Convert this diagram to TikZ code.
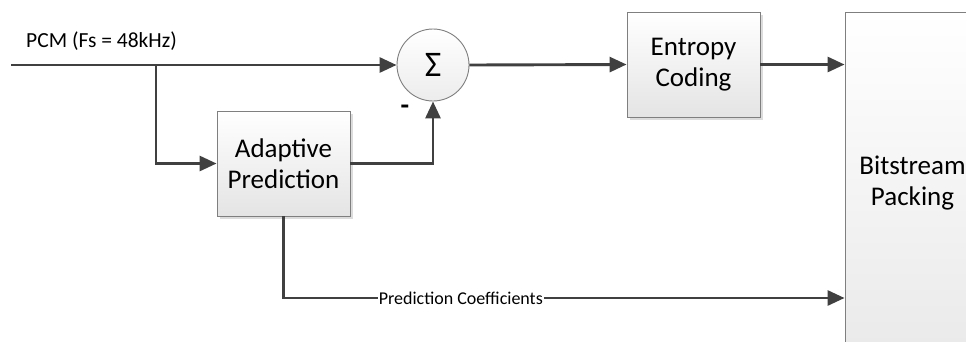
\documentclass[tikz,border=0pt]{standalone}
\usepackage{fontspec}
\setmainfont{Carlito}
\usetikzlibrary{arrows.meta,shadows,calc}
\definecolor{wirec}{HTML}{404040}
\definecolor{edgec}{HTML}{7F7F7F}
\definecolor{fillc}{HTML}{E4E4E4}
\begin{document}
\begin{tikzpicture}[x=1pt,y=-1pt,
  wire/.style={draw=wirec, line width=2.9pt, -{Triangle[length=17pt,width=15pt]}},
  block/.style={draw=edgec, line width=0.9pt, top color=white, bottom color=fillc,
    minimum width=133pt, minimum height=105pt, align=center, inner sep=0pt,
    font=\fontsize{27}{31}\selectfont,
    drop shadow={shadow xshift=3pt, shadow yshift=-3pt, fill=black!30, opacity=0.45}},
  sumnode/.style={draw=edgec, line width=0.9pt, circle, top color=white, bottom color=fillc!70,
    minimum size=72pt, inner sep=0pt, font=\fontsize{36}{40}\selectfont},
  lab/.style={inner sep=1pt}
]
\useasboundingbox (0,0) rectangle (966,341);
\fill[white] (0,0) rectangle (966,341);

\node[block] (adapt) at (283.5,163.5) {Adaptive\\Prediction};
\node[block] (ent) at (693.5,64.5) {Entropy\\Coding};
\node[block, minimum width=135pt, minimum height=343pt, top color=white, bottom color=fillc!80] (bit) at (912.5,183.5) {Bitstream\\Packing};
\node[sumnode] (sum) at (433,65) {Σ};

\coordinate (in) at (11,65);
\coordinate (br) at (156,65);
\coordinate (pcy) at (0,298);

\node[lab, anchor=west, font=\fontsize{21.5}{24}\selectfont] (pcm) at (25,41) {PCM (Fs = 48kHz)};
\node[lab, font=\bfseries\fontsize{28}{30}\selectfont] (minus) at (405,110) {-};

\draw[wire] (in) -- (sum.west);
\draw[wire] (br) |- (adapt.west);
\draw[wire] (adapt.east) -| (sum.south);
\draw[wire] (sum.east) -- (ent.west);
\draw[wire] (ent.east) -- (ent.east -| bit.west);
\draw[wire] (adapt.south) |- node[pos=0.658, fill=white, lab, font=\fontsize{18}{22}\selectfont] (pclab) {Prediction Coefficients} (bit.west |- pcy);
\end{tikzpicture}
\end{document}
